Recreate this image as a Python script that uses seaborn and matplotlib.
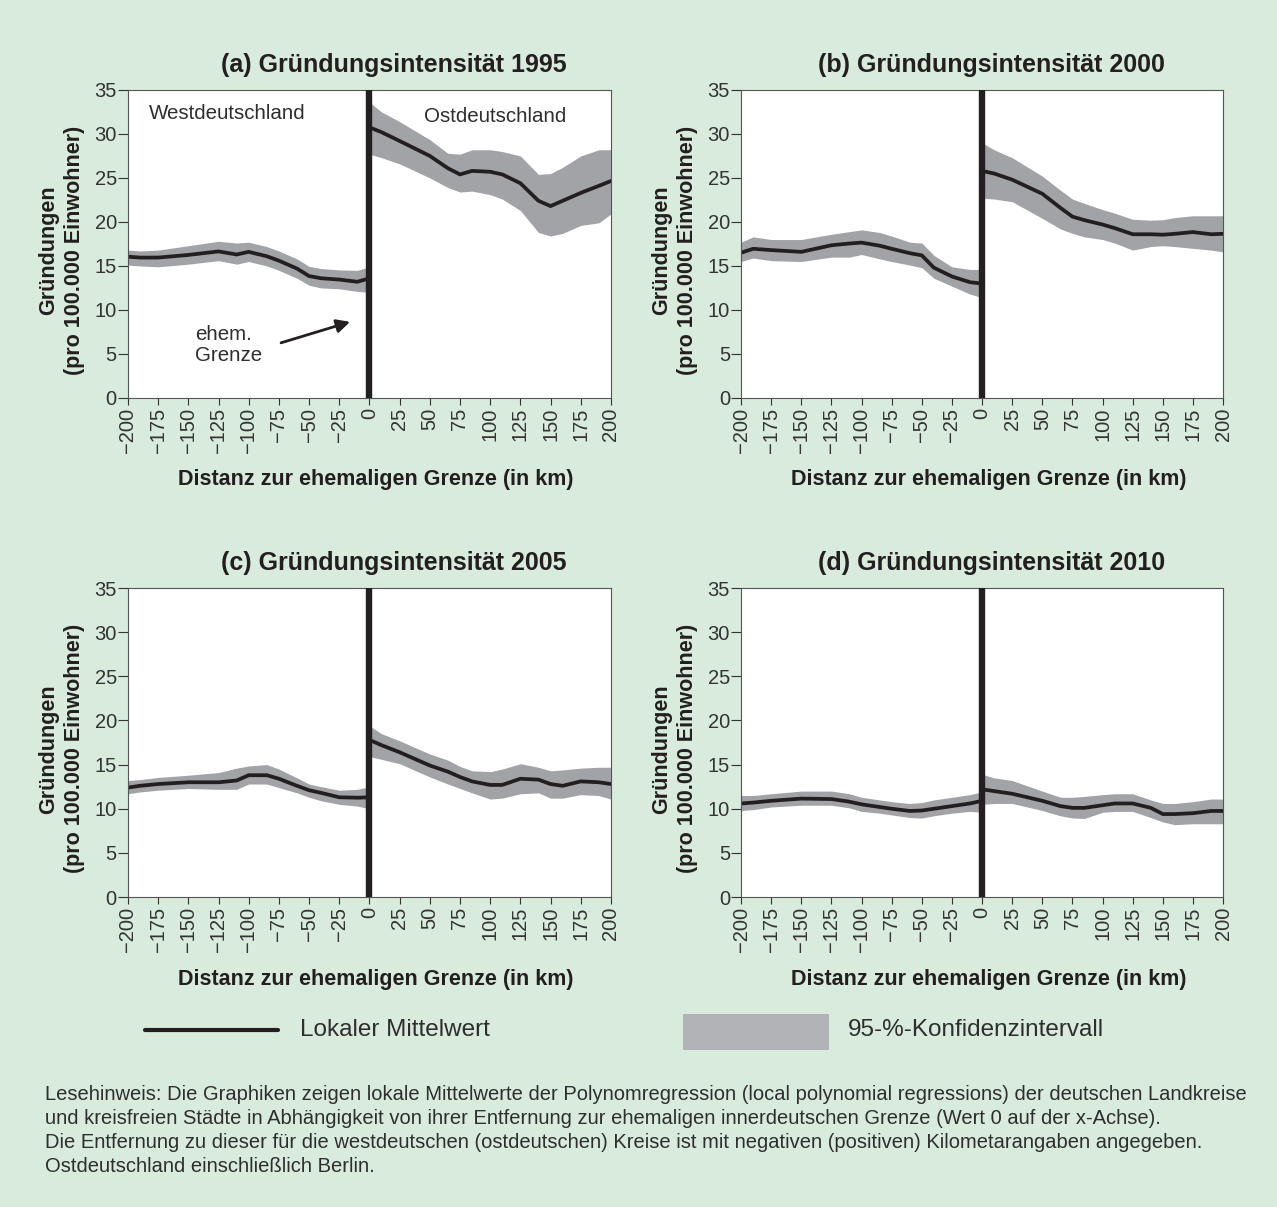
import numpy as np
import matplotlib
matplotlib.use('Agg')
import matplotlib.pyplot as plt
import seaborn as sns
from matplotlib.lines import Line2D
from matplotlib.patches import Rectangle

# distance grid (km), west side negative, east side positive
west_km = [-200, -190, -175, -150, -125, -110, -100, -85, -75, -60, -50, -40, -25, -10, 0]
east_km = [0, 10, 25, 50, 65, 75, 85, 100, 110, 125, 140, 150, 160, 175, 190, 200]

# (a) 1995
a_west_mean = [16.05, 15.95, 15.95, 16.25, 16.65, 16.3, 16.6, 16.1, 15.6, 14.7, 13.85, 13.6, 13.45, 13.2, 13.6]
a_west_hi = [16.8, 16.7, 16.8, 17.3, 17.8, 17.6, 17.7, 17.2, 16.7, 15.8, 14.95, 14.7, 14.55, 14.5, 14.9]
a_west_lo = [15.1, 15.0, 14.9, 15.2, 15.6, 15.2, 15.5, 15.0, 14.5, 13.6, 12.8, 12.5, 12.4, 12.1, 12.0]
a_east_mean = [30.75, 30.2, 29.2, 27.5, 26.1, 25.4, 25.8, 25.7, 25.4, 24.4, 22.4, 21.8, 22.4, 23.3, 24.1, 24.65]
a_east_hi = [33.6, 32.5, 31.4, 29.35, 27.8, 27.7, 28.2, 28.2, 28.0, 27.5, 25.4, 25.5, 26.2, 27.5, 28.2, 28.2]
a_east_lo = [27.7, 27.3, 26.6, 25.0, 23.9, 23.4, 23.5, 23.1, 22.6, 21.3, 18.8, 18.4, 18.7, 19.6, 19.9, 20.9]

# (b) 2000
b_west_mean = [16.5, 16.95, 16.8, 16.6, 17.35, 17.55, 17.65, 17.3, 16.95, 16.45, 16.2, 14.8, 13.8, 13.15, 13.0]
b_west_hi = [17.7, 18.3, 18.0, 18.0, 18.6, 18.9, 19.1, 18.8, 18.4, 17.7, 17.6, 16.2, 14.9, 14.6, 14.6]
b_west_lo = [15.5, 15.9, 15.6, 15.5, 16.0, 16.0, 16.3, 15.8, 15.5, 15.1, 14.8, 13.6, 12.7, 11.8, 11.4]
b_east_mean = [25.8, 25.5, 24.8, 23.2, 21.6, 20.6, 20.2, 19.7, 19.3, 18.6, 18.6, 18.55, 18.65, 18.85, 18.6, 18.65]
b_east_hi = [29.0, 28.2, 27.3, 25.2, 23.6, 22.6, 22.1, 21.4, 21.0, 20.3, 20.2, 20.25, 20.5, 20.7, 20.7, 20.7]
b_east_lo = [22.7, 22.6, 22.3, 20.4, 19.2, 18.7, 18.3, 18.0, 17.6, 16.8, 17.2, 17.3, 17.2, 17.0, 16.8, 16.6]

# (c) 2005
c_west_mean = [12.4, 12.6, 12.8, 13.0, 13.0, 13.2, 13.8, 13.8, 13.4, 12.6, 12.1, 11.8, 11.3, 11.25, 11.3]
c_west_hi = [13.2, 13.3, 13.55, 13.8, 14.1, 14.6, 14.85, 15.0, 14.5, 13.5, 12.8, 12.5, 12.1, 12.2, 12.5]
c_west_lo = [11.7, 11.9, 12.1, 12.3, 12.2, 12.2, 12.8, 12.8, 12.4, 11.8, 11.3, 10.9, 10.5, 10.3, 10.0]
c_east_mean = [17.8, 17.2, 16.4, 14.9, 14.2, 13.6, 13.1, 12.7, 12.7, 13.4, 13.3, 12.8, 12.6, 13.1, 13.0, 12.8]
c_east_hi = [19.4, 18.5, 17.7, 16.2, 15.5, 14.8, 14.3, 14.2, 14.5, 15.1, 14.7, 14.3, 14.4, 14.6, 14.7, 14.7]
c_east_lo = [15.9, 15.6, 15.1, 13.6, 12.8, 12.3, 11.8, 11.1, 11.2, 11.7, 11.8, 11.2, 11.2, 11.6, 11.5, 11.1]

# (d) 2010
d_west_mean = [10.6, 10.7, 10.9, 11.15, 11.1, 10.8, 10.5, 10.2, 10.0, 9.75, 9.8, 10.0, 10.3, 10.6, 10.9]
d_west_hi = [11.5, 11.5, 11.7, 12.0, 12.0, 11.7, 11.3, 11.0, 10.8, 10.6, 10.7, 11.0, 11.3, 11.6, 11.9]
d_west_lo = [9.8, 9.9, 10.2, 10.4, 10.4, 10.1, 9.7, 9.5, 9.3, 9.0, 8.95, 9.2, 9.5, 9.7, 9.6]
d_east_mean = [12.2, 12.0, 11.7, 10.9, 10.3, 10.1, 10.1, 10.4, 10.6, 10.6, 10.1, 9.4, 9.4, 9.5, 9.75, 9.75]
d_east_hi = [13.9, 13.5, 13.2, 12.0, 11.3, 11.3, 11.4, 11.6, 11.7, 11.7, 11.0, 10.6, 10.6, 10.8, 11.1, 11.1]
d_east_lo = [10.5, 10.6, 10.6, 9.8, 9.2, 8.95, 8.9, 9.6, 9.7, 9.7, 9.0, 8.5, 8.2, 8.3, 8.3, 8.3]

titles = ['(a) Gründungsintensität 1995', '(b) Gründungsintensität 2000',
          '(c) Gründungsintensität 2005', '(d) Gründungsintensität 2010']
x_ticks = list(range(-200, 201, 25))
y_ticks = list(range(0, 36, 5))

bg = '#d8ebdd'
band_col = '#a1a3a6'
line_col = '#231f20'
text_col = '#2e2e2e'

sns.set_theme(style='white')
plt.rcParams['font.family'] = ['Liberation Sans', 'DejaVu Sans']

fig = plt.figure(figsize=(12.77, 12.07), dpi=100, facecolor=bg)

# axes rectangles in figure fractions
positions = [
    [0.1002, 0.6703, 0.3782, 0.2552],
    [0.5803, 0.6703, 0.3775, 0.2552],
    [0.1002, 0.2568, 0.3782, 0.2560],
    [0.5803, 0.2568, 0.3775, 0.2560],
]
title_x = [0.551, 0.52, 0.551, 0.52]

panels = [
    (a_west_mean, a_west_lo, a_west_hi, a_east_mean, a_east_lo, a_east_hi),
    (b_west_mean, b_west_lo, b_west_hi, b_east_mean, b_east_lo, b_east_hi),
    (c_west_mean, c_west_lo, c_west_hi, c_east_mean, c_east_lo, c_east_hi),
    (d_west_mean, d_west_lo, d_west_hi, d_east_mean, d_east_lo, d_east_hi),
]

axes = []
for i, (wm, wl, wh, em, el, eh) in enumerate(panels):
    ax = fig.add_axes(positions[i])
    ax.set_facecolor('white')
    # confidence bands
    ax.fill_between(west_km, wl, wh, color=band_col, lw=0)
    ax.fill_between(east_km, el, eh, color=band_col, lw=0)
    # local means
    sns.lineplot(x=west_km, y=wm, ax=ax, color=line_col, lw=2.7, estimator=None)
    sns.lineplot(x=east_km, y=em, ax=ax, color=line_col, lw=2.7, estimator=None)
    # former border
    ax.axvline(0, color=line_col, lw=4.6, zorder=5)

    ax.set_xlim(-200, 200)
    ax.set_ylim(0, 35)
    ax.set_xticks(x_ticks)
    ax.set_yticks(y_ticks)
    ax.set_xticklabels([str(t).replace('-', '\u2212') for t in x_ticks], rotation=90)
    ax.tick_params(axis='both', which='both', direction='out', colors='#333333',
                   labelsize=14.5, width=0.8)
    ax.tick_params(axis='y', length=7, pad=1)
    ax.tick_params(axis='x', length=5, pad=2)
    ax.tick_params(bottom=True, left=True)
    for sp in ax.spines.values():
        sp.set_color('#555555')
        sp.set_linewidth(0.8)

    ax.set_title(titles[i], fontsize=18, fontweight='bold', color=line_col, pad=13, x=title_x[i])
    ax.set_xlabel('Distanz zur ehemaligen Grenze (in km)', fontsize=15.5, fontweight='bold',
                  color=line_col, labelpad=12, x=0.513)
    ax.set_ylabel('Gründungen\n(pro 100.000 Einwohner)', fontsize=15.5, fontweight='bold',
                  color=line_col, labelpad=7, linespacing=1.3, y=0.48)
    ax.grid(False)
    axes.append(ax)

# annotations in panel (a)
ax = axes[0]
ax.text(0.043, 0.955, 'Westdeutschland', transform=ax.transAxes, ha='left', va='top',
        fontsize=14.8, color=text_col)
ax.text(0.613, 0.945, 'Ostdeutschland', transform=ax.transAxes, ha='left', va='top',
        fontsize=14.8, color=text_col)
ax.text(0.139, 0.237, 'ehem.\nGrenze', transform=ax.transAxes, ha='left', va='top',
        fontsize=14.8, color=text_col, linespacing=1.15)
ax.annotate('', xy=(0.46, 0.247), xytext=(0.317, 0.179), xycoords='axes fraction',
            textcoords='axes fraction',
            arrowprops=dict(arrowstyle='-|>', lw=2, color=line_col, mutation_scale=20,
                            shrinkA=0, shrinkB=0))

# legend
fig.add_artist(Line2D([0.1135, 0.2177], [0.1466, 0.1466], color=line_col, lw=3,
                      transform=fig.transFigure))
fig.text(0.2349, 0.1466, 'Lokaler Mittelwert', fontsize=17.5, color=text_col, va='center')
fig.add_artist(Rectangle((0.5348, 0.1301), 0.1143, 0.0298, color='#b1b3b6',
                         transform=fig.transFigure, lw=0))
fig.text(0.664, 0.1466, '95-%-Konfidenzintervall', fontsize=17.5, color=text_col, va='center')

note = ('Lesehinweis: Die Graphiken zeigen lokale Mittelwerte der Polynomregression (local polynomial regressions) der deutschen Landkreise\n'
        'und kreisfreien Städte in Abhängigkeit von ihrer Entfernung zur ehemaligen innerdeutschen Grenze (Wert 0 auf der x-Achse).\n'
        'Die Entfernung zu dieser für die westdeutschen (ostdeutschen) Kreise ist mit negativen (positiven) Kilometarangaben angegeben.\n'
        'Ostdeutschland einschließlich Berlin.')
fig.text(45 / 1277, (1207 - 1085) / 1207, note, fontsize=14.5, color=text_col, va='top',
         ha='left', linespacing=1.33)

fig.savefig('out.png', dpi=100, facecolor=bg)
